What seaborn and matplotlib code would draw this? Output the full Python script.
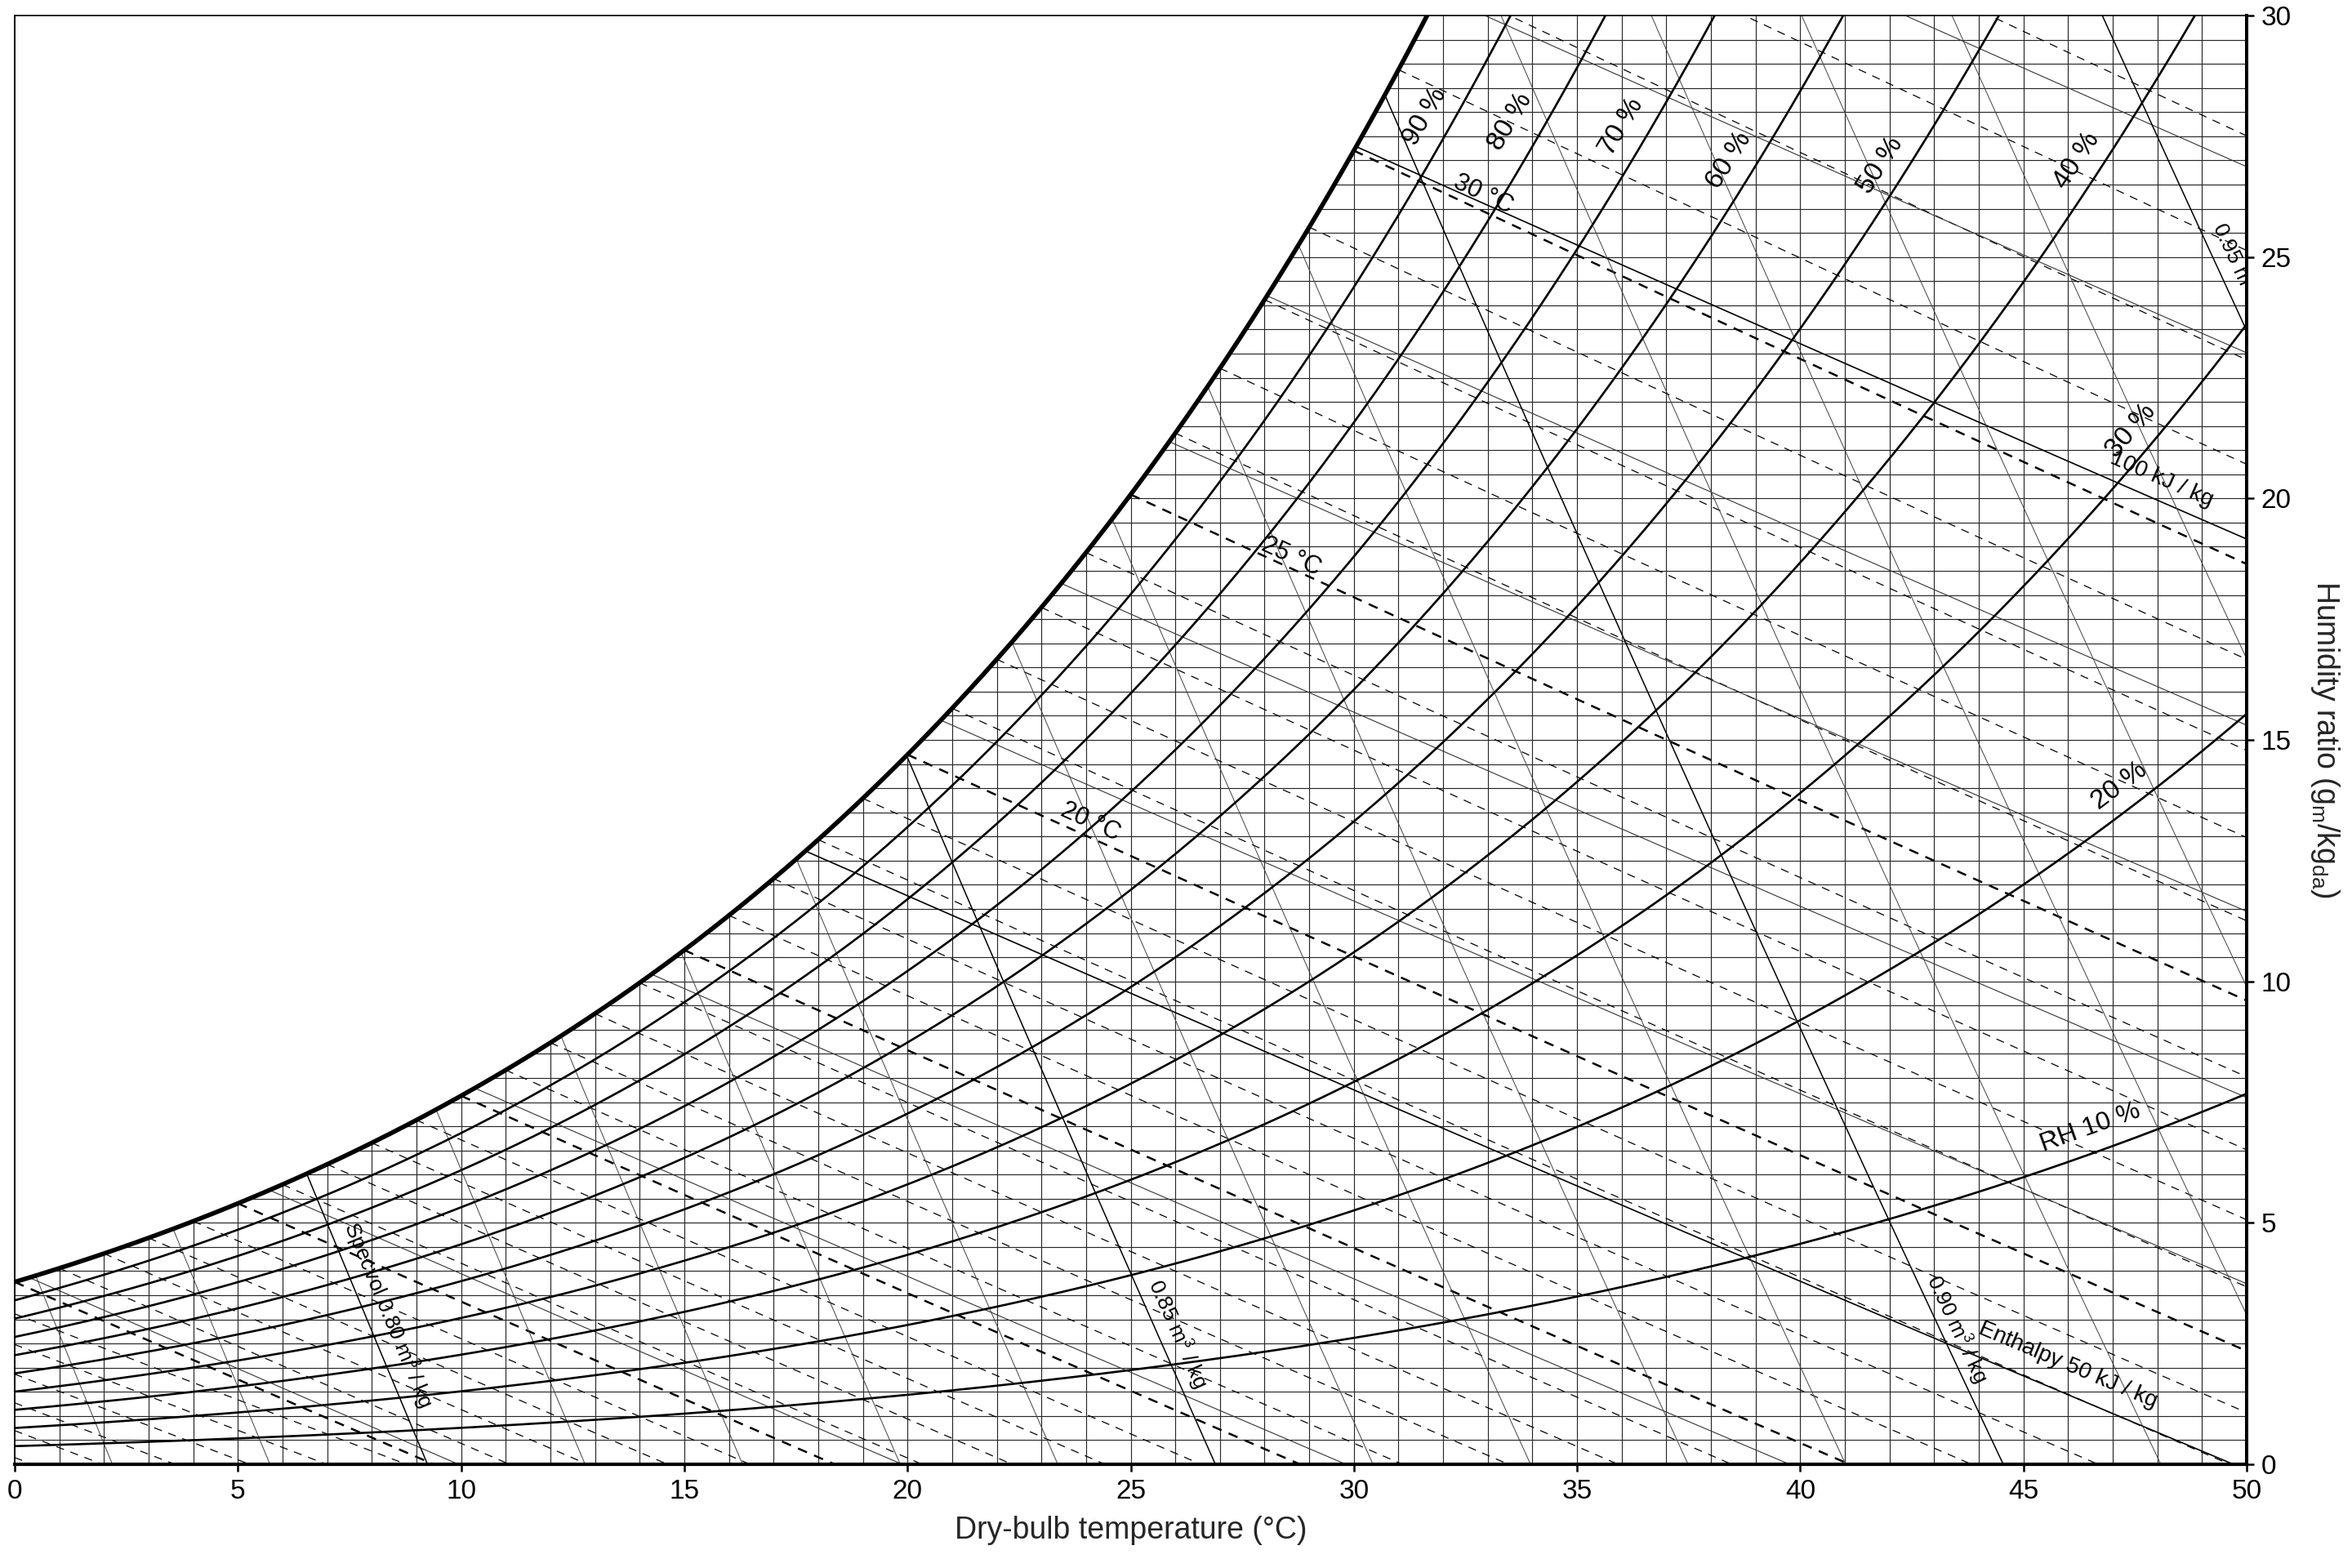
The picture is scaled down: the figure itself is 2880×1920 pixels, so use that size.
import numpy as np
import pandas as pd
import matplotlib
matplotlib.use('Agg')
import matplotlib.pyplot as plt
import seaborn as sns

# chart levels
rh_levels = [10, 20, 30, 40, 50, 60, 70, 80, 90]
wetbulb_temps = [-6, -5, -4, -3, -2, -1, 0, 1, 2, 3, 4, 5, 6, 7, 8, 9, 10, 11, 12, 13, 14,
                 15, 16, 17, 18, 19, 20, 21, 22, 23, 24, 25, 26, 27, 28, 29, 30, 31, 32,
                 33, 34, 35]
bold_wetbulb = [0, 5, 10, 15, 20, 25, 30, 35]
enthalpy_levels = [10, 20, 30, 40, 50, 60, 70, 80, 90, 100, 110, 120]
bold_enthalpy = [50, 100]
volume_levels = [0.78, 0.79, 0.80, 0.81, 0.82, 0.83, 0.84, 0.85, 0.86, 0.87, 0.88,
                 0.89, 0.90, 0.91, 0.92, 0.93, 0.94, 0.95]
bold_volume = [0.80, 0.85, 0.90, 0.95]
x_ticks = [0, 5, 10, 15, 20, 25, 30, 35, 40, 45, 50]
y_ticks = [0, 5, 10, 15, 20, 25, 30]

# curve labels: text, kind, level, dry-bulb, humidity ratio, size
label_text = ['90 %', '80 %', '70 %', '60 %', '50 %', '40 %', '30 %', '20 %', 'RH 10 %',
              '30 °C', '25 °C', '20 °C',
              '100 kJ / kg', 'Enthalpy 50 kJ / kg',
              'Specvol 0.80 m$^3$ / kg', '0.85 m$^3$ / kg', '0.90 m$^3$ / kg', '0.95 m$^3$ / kg']
label_kind = ['rh'] * 9 + ['wb'] * 3 + ['h'] * 2 + ['v'] * 4
label_level = [90, 80, 70, 60, 50, 40, 30, 20, 10, 30, 25, 20, 100, 50, 0.80, 0.85, 0.90, 0.95]
label_t = [31.6, 33.5, 36.0, 38.4, 41.8, 46.2, 47.4, 47.15, 46.5,
           32.9, 28.6, 24.1, 48.1, 46.0, 8.35, 26.05, 43.5, 49.9]
label_w = [27.9, 27.8, 27.7, 27.0, 26.9, 27.0, 21.4, 14.05, 6.96,
           26.3, 18.8, 13.3, 20.4, 2.06, 3.1, 2.7, 2.8, 24.6]
label_size = [12, 12, 12, 12, 12, 12, 12, 12, 11.5, 11, 11, 11, 10, 10, 9.5, 9.5, 9.5, 9.5]

P_ATM = 101.325


def p_ws(t):
    tk = np.asarray(t, dtype=float) + 273.15
    water = np.exp(-5.8002206e3 / tk + 1.3914993 - 4.8640239e-2 * tk + 4.1764768e-5 * tk ** 2
                   - 1.4452093e-8 * tk ** 3 + 6.5459673 * np.log(tk))
    ice = np.exp(-5.6745359e3 / tk + 6.3925247 - 9.677843e-3 * tk + 6.2215701e-7 * tk ** 2
                 + 2.0747825e-9 * tk ** 3 - 9.484024e-13 * tk ** 4 + 4.1635019 * np.log(tk))
    return np.where(tk >= 273.15, water, ice) / 1000.0


def w_rh(t, rh):
    pw = rh / 100.0 * p_ws(t)
    return 621.945 * pw / (P_ATM - pw)


def w_sat(t):
    return w_rh(t, 100.0)


def w_wetbulb(t, twb):
    ws = w_sat(twb) / 1000.0
    if twb >= 0:
        w = ((2501 - 2.326 * twb) * ws - 1.006 * (t - twb)) / (2501 + 1.86 * t - 4.186 * twb)
    else:
        w = ((2830 - 0.24 * twb) * ws - 1.006 * (t - twb)) / (2830 + 1.86 * t - 2.1 * twb)
    return w * 1000.0


def w_enthalpy(t, h):
    return (h - 1.006 * t) / (2501 + 1.86 * t) * 1000.0


def w_volume(t, v):
    return (v * P_ATM / (0.287042 * (t + 273.15)) - 1) / 1.607858 * 1000.0


tt = np.linspace(-10, 50, 12001)
ws_grid = w_sat(tt)


def inside(t, w, tmin=-10):
    m = (w >= 0) & (w <= w_sat(t) + 1e-9) & (t >= tmin)
    return t[m], w[m]


def family(levels, func, key, tmin_func=None):
    rows = []
    for lv in levels:
        tmin = tmin_func(lv) if tmin_func else -10
        t, w = inside(tt, func(tt, lv), tmin)
        if len(t) > 1:
            rows.append(pd.DataFrame({'T': t, 'W': w, key: lv}))
    return pd.concat(rows, ignore_index=True)


sns.set_style('ticks')
plt.rcParams['font.family'] = ['Liberation Sans', 'DejaVu Sans']
plt.rcParams['mathtext.fontset'] = 'custom'
plt.rcParams['mathtext.rm'] = 'Liberation Sans'
plt.rcParams['mathtext.it'] = 'Liberation Sans:italic'
plt.rcParams['lines.scale_dashes'] = False

fig, ax = plt.subplots(figsize=(14.4, 9.6), dpi=200)
fig.subplots_adjust(left=18 / 2880, right=2751 / 2880, bottom=1 - 1793 / 1920, top=1 - 19 / 1920)

# grid only below the saturation curve
grid_t = np.arange(1, 50)
ax.vlines(grid_t, 0, np.minimum(w_sat(grid_t), 30), color='#262626', lw=0.42, zorder=1)
grid_w = np.arange(0.5, 30, 0.5)
t_dew = np.maximum(np.interp(grid_w, ws_grid, tt), 0)
ax.hlines(grid_w, t_dew, 50, color='#262626', lw=0.42, zorder=1)

# wet-bulb lines
wb = family(wetbulb_temps, w_wetbulb, 'twb', tmin_func=lambda v: v)
thin = wb[~wb['twb'].isin(bold_wetbulb)]
bold = wb[wb['twb'].isin(bold_wetbulb)]
sns.lineplot(data=thin, x='T', y='W', units='twb', estimator=None, sort=False, ax=ax,
             color='black', lw=0.45, linestyle=(0, (3.6, 3.0)), zorder=2)
sns.lineplot(data=bold, x='T', y='W', units='twb', estimator=None, sort=False, ax=ax,
             color='black', lw=0.9, linestyle=(0, (4.3, 3.4)), zorder=2)

# enthalpy lines
hh = family(enthalpy_levels, w_enthalpy, 'h')
sns.lineplot(data=hh[~hh['h'].isin(bold_enthalpy)], x='T', y='W', units='h', estimator=None,
             sort=False, ax=ax, color='#333333', lw=0.4, zorder=2)
sns.lineplot(data=hh[hh['h'].isin(bold_enthalpy)], x='T', y='W', units='h', estimator=None,
             sort=False, ax=ax, color='black', lw=0.6, zorder=2)

# specific volume lines
vv = family(volume_levels, w_volume, 'v')
is_bold = np.isclose(vv['v'].values[:, None], np.array(bold_volume)[None, :]).any(axis=1)
sns.lineplot(data=vv[~is_bold], x='T', y='W', units='v', estimator=None, sort=False, ax=ax,
             color='#404040', lw=0.35, zorder=2)
sns.lineplot(data=vv[is_bold], x='T', y='W', units='v', estimator=None, sort=False, ax=ax,
             color='black', lw=0.55, zorder=2)

# relative humidity curves and saturation
t_pos = tt[tt >= 0]
rh = pd.concat([pd.DataFrame({'T': t_pos, 'W': w_rh(t_pos, r), 'rh': r}) for r in rh_levels],
               ignore_index=True)
sns.lineplot(data=rh, x='T', y='W', units='rh', estimator=None, sort=False, ax=ax,
             color='black', lw=0.95, zorder=3)
sns.lineplot(x=t_pos, y=w_sat(t_pos), ax=ax, color='black', lw=2.0, zorder=4,
             estimator=None, sort=False)

ax.set_xlim(0, 50)
ax.set_ylim(0, 30)
ax.set_xticks(x_ticks)
ax.set_yticks(y_ticks)
ax.yaxis.tick_right()
ax.yaxis.set_label_position('right')
ax.tick_params(axis='both', direction='out', length=3.2, width=0.9, pad=3.2,
               labelsize=12, colors='black')
ax.tick_params(axis='y', left=False, right=True)
ax.tick_params(axis='x', top=False, bottom=True)
ax.set_xlabel('Dry-bulb temperature (°C)', fontsize=13.5, labelpad=5)
ax.set_ylabel('Humidity ratio (g$_\\mathrm{m}$/kg$_\\mathrm{da}$)', fontsize=13.5,
              rotation=270, labelpad=22)
for side, lw in [('bottom', 1.5), ('right', 1.45), ('left', 0.7), ('top', 0.6)]:
    ax.spines[side].set_visible(True)
    ax.spines[side].set_linewidth(lw)
    ax.spines[side].set_color('black')
    ax.spines[side].set_zorder(6)

funcs = {'rh': w_rh, 'wb': w_wetbulb, 'h': w_enthalpy, 'v': w_volume}


def screen_angle(kind, level, t):
    x = np.array([t - 0.15, t + 0.15])
    y = funcs[kind](x, level)
    p = ax.transData.transform(np.column_stack([x, y]))
    return np.degrees(np.arctan2(p[1, 1] - p[0, 1], p[1, 0] - p[0, 0]))


for txt, kind, lv, t, w, fs in zip(label_text, label_kind, label_level, label_t, label_w, label_size):
    ang = screen_angle(kind, lv, t)
    ax.text(t, w, txt, rotation=ang, rotation_mode='anchor', ha='center', va='center',
            fontsize=fs, color='black', clip_on=True, zorder=5)

fig.savefig('out.png', dpi=200)
